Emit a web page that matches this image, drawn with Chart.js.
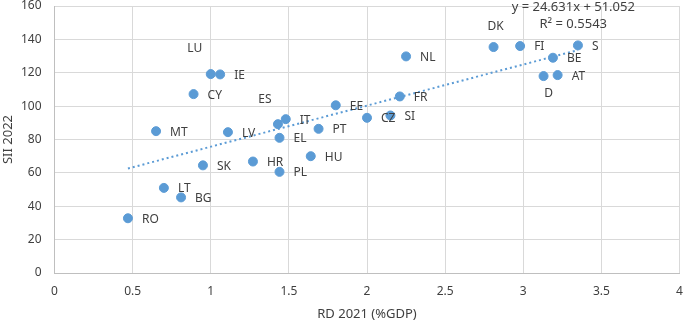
<!DOCTYPE html>
<html>
<head>
<meta charset="utf-8">
<script src="https://cdn.jsdelivr.net/npm/chart.js@4/dist/chart.umd.min.js"></script>
<style>
  html, body { margin: 0; padding: 0; background: #ffffff; }
  #wrap { width: 685px; height: 323px; }
</style>
</head>
<body>
<div id="wrap"><canvas id="c" width="685" height="323"></canvas></div>
<script>
// ---- Data ----
const countries = ["RO","LT","BG","SK","HR","PL","HU","EL","ES","IT","PT","EE","CZ","SI","FR","NL","DK","FI","S","BE","D","AT","LU","IE","CY","MT","LV"];
const rd2021 = [0.47, 0.70, 0.81, 0.95, 1.27, 1.44, 1.64, 1.44, 1.43, 1.48, 1.69, 1.80, 2.00, 2.15, 2.21, 2.25, 2.81, 2.98, 3.35, 3.19, 3.13, 3.22, 1.00, 1.06, 0.89, 0.65, 1.11];
const sii2022 = [32.8, 51.0, 45.3, 64.5, 66.8, 60.6, 70.0, 81.0, 89.2, 92.2, 86.4, 100.5, 93.0, 94.4, 105.8, 129.8, 135.4, 136.0, 136.4, 129.0, 118.0, 118.6, 119.2, 119.0, 107.2, 85.0, 84.4];
const xTicks = [0, 0.5, 1, 1.5, 2, 2.5, 3, 3.5, 4];
const xTickLabels = ["0", "0.5", "1", "1.5", "2", "2.5", "3", "3.5", "4"];
const yTicks = [0, 20, 40, 60, 80, 100, 120, 140, 160];
const trendSlope = 24.631;      // from the equation printed on the chart
const trendIntercept = 51.052;
const trendR2 = 0.5543;

// ---- Label placement (presentation only) ----
const labelOffsets = {
  ES: [-13, -25, "center"],
  LU: [-16, -26, "center"],
  DK: [2, -20, "center"],
  D:  [5, 17, "center"]
};
const defaultOffset = [14, 1, "left"];

const points = countries.map((c, i) => ({ x: rd2021[i], y: sii2022[i], label: c }));
const xMin = Math.min(...rd2021), xMax = Math.max(...rd2021);
const trendPts = [xMin, xMax].map(x => ({ x: x, y: trendSlope * x + trendIntercept }));

const FONT = "'Noto Sans', 'Open Sans', sans-serif";
const TEXT = "#404040";
const BLUE = "#5B9BD5";

const labelPlugin = {
  id: "pointLabels",
  afterDatasetsDraw(chart) {
    const ctx = chart.ctx;
    const meta = chart.getDatasetMeta(1);
    ctx.save();
    ctx.font = "12px " + FONT;
    ctx.fillStyle = TEXT;
    ctx.textBaseline = "middle";
    meta.data.forEach((el, i) => {
      const name = countries[i];
      const off = labelOffsets[name] || defaultOffset;
      ctx.textAlign = off[2];
      ctx.fillText(name, el.x + off[0], el.y + off[1]);
    });
    // trendline equation
    const xs = chart.scales.x, ys = chart.scales.y;
    const ex = xs.getPixelForValue(3.32);
    ctx.font = "13px " + FONT;
    ctx.textAlign = "center";
    ctx.fillText("y = " + trendSlope + "x + " + trendIntercept.toFixed(3), ex, ys.getPixelForValue(160) + 1.5);
    ctx.fillText("R² = " + trendR2, ex, ys.getPixelForValue(160) + 18.5);
    ctx.restore();
  }
};

new Chart(document.getElementById("c"), {
  type: "scatter",
  data: {
    datasets: [
      {
        type: "line",
        label: "Trend",
        data: trendPts,
        borderColor: BLUE,
        borderWidth: 2,
        borderDash: [2, 3],
        borderCapStyle: "butt",
        pointRadius: 0,
        fill: false,
        order: 2
      },
      {
        label: "SII 2022",
        data: points,
        backgroundColor: BLUE,
        borderColor: BLUE,
        pointRadius: 4.5,
        pointHoverRadius: 4.5,
        order: 1
      }
    ]
  },
  options: {
    responsive: false,
    animation: false,
    events: [],
    layout: { padding: { top: 6, right: 3, left: 0, bottom: 0 } },
    plugins: {
      legend: { display: false },
      tooltip: { enabled: false }
    },
    scales: {
      x: {
        type: "linear",
        min: 0, max: 4,
        afterBuildTicks(scale) { scale.ticks = xTicks.map(v => ({ value: v })); },
        afterFit(scale) { scale.height = 50; scale.paddingLeft = 0; scale.paddingRight = 0; },
        grid: { color: "#D9D9D9", lineWidth: 1, drawTicks: false, tickLength: 0 },
        border: { color: "#BFBFBF", width: 1 },
        ticks: {
          color: TEXT, font: { family: FONT, size: 12 }, padding: 11, maxRotation: 0,
          callback: (v) => { const i = xTicks.indexOf(v); return i >= 0 ? xTickLabels[i] : ""; }
        },
        title: { display: true, text: "RD 2021 (%GDP)", color: TEXT, font: { family: FONT, size: 13 }, padding: { top: 0, bottom: 1 } }
      },
      y: {
        type: "linear",
        min: 0, max: 160,
        afterBuildTicks(scale) { scale.ticks = yTicks.map(v => ({ value: v })); },
        afterFit(scale) { scale.width = 54.5; scale.paddingTop = 0; scale.paddingBottom = 0; },
        grid: { color: "#D9D9D9", lineWidth: 1, drawTicks: false, tickLength: 0 },
        border: { color: "#BFBFBF", width: 1 },
        ticks: { color: TEXT, font: { family: FONT, size: 12 }, padding: 13, callback: (v) => String(v) },
        title: { display: true, text: "SII 2022", color: TEXT, font: { family: FONT, size: 13 }, padding: { top: 0, bottom: 0 } }
      }
    }
  },
  plugins: [labelPlugin]
});
</script>
</body>
</html>
